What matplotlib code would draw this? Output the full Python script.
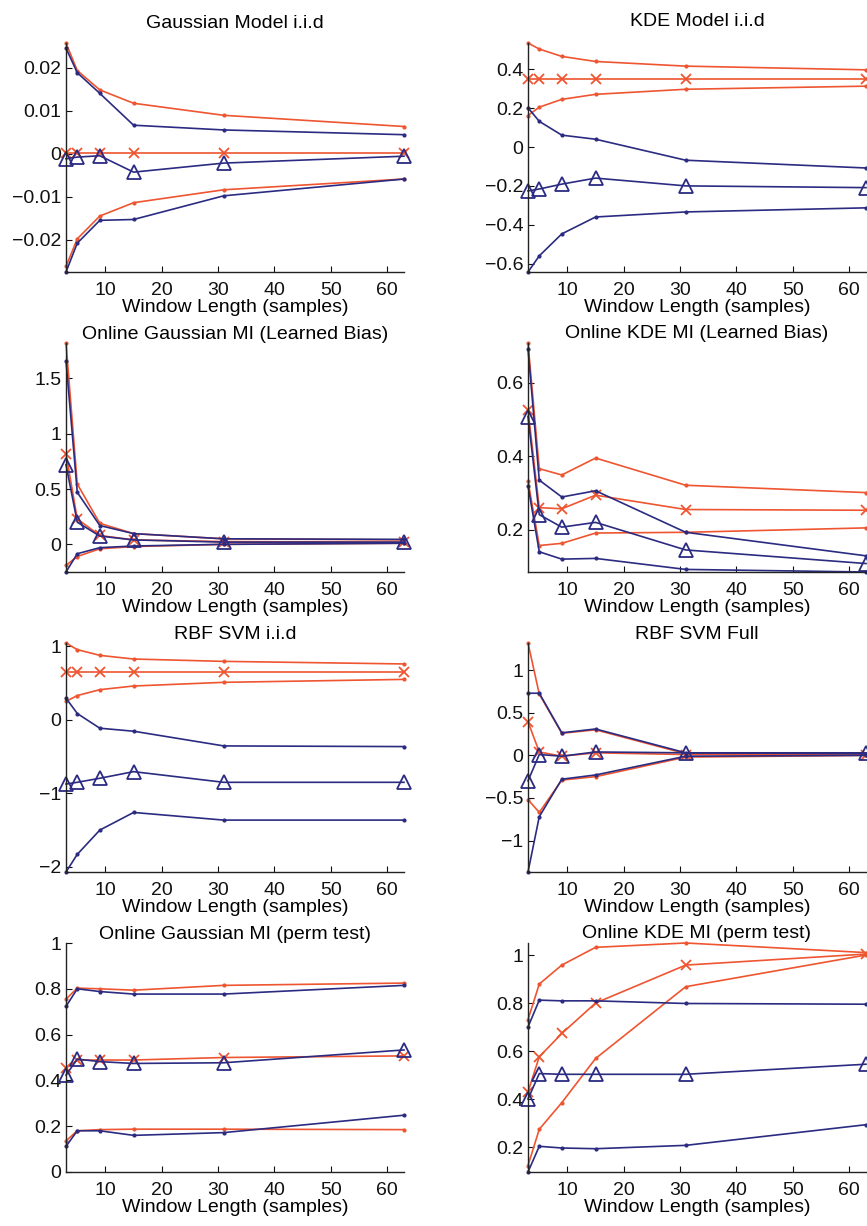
import numpy as np
import matplotlib
matplotlib.use("Agg")
import matplotlib.pyplot as plt
from matplotlib.ticker import FuncFormatter

plt.rcParams["font.family"] = ["Liberation Sans", "DejaVu Sans"]
plt.rcParams["font.size"] = 14

RED = "#ee5530"
BLUE = "#2b2b82"

win = [3, 5, 9, 15, 31, 63]
xticks = [10, 20, 30, 40, 50, 60]
xlab = "Window Length (samples)"

titles = ["Gaussian Model i.i.d", "KDE Model i.i.d",
          "Online Gaussian MI (Learned Bias)", "Online KDE MI (Learned Bias)",
          "RBF SVM i.i.d", "RBF SVM Full",
          "Online Gaussian MI (perm test)", "Online KDE MI (perm test)"]

# each panel: red upper / red mean (x) / red lower, blue upper / blue mean (^) / blue lower
gauss_iid_red_hi = [0.0257, 0.0193, 0.0148, 0.0117, 0.0089, 0.0063]
gauss_iid_red_mid = [0.0002, 0.0002, 0.0002, 0.0002, 0.0002, 0.0002]
gauss_iid_red_lo = [-0.0262, -0.0198, -0.0145, -0.0114, -0.0084, -0.0059]
gauss_iid_blue_hi = [0.0245, 0.0188, 0.0140, 0.0066, 0.0055, 0.0044]
gauss_iid_blue_mid = [-0.0012, -0.0008, -0.0005, -0.0043, -0.0022, -0.0006]
gauss_iid_blue_lo = [-0.0275, -0.0208, -0.0155, -0.0153, -0.0098, -0.0059]

kde_iid_red_hi = [0.535, 0.504, 0.466, 0.440, 0.416, 0.397]
kde_iid_red_mid = [0.350, 0.350, 0.350, 0.350, 0.350, 0.350]
kde_iid_red_lo = [0.162, 0.205, 0.245, 0.271, 0.297, 0.313]
kde_iid_blue_hi = [0.202, 0.132, 0.061, 0.040, -0.068, -0.108]
kde_iid_blue_mid = [-0.226, -0.216, -0.191, -0.160, -0.200, -0.209]
kde_iid_blue_lo = [-0.643, -0.560, -0.447, -0.360, -0.334, -0.313]

ogauss_lb_red_hi = [1.82, 0.545, 0.19, 0.097, 0.05, 0.04]
ogauss_lb_red_mid = [0.82, 0.23, 0.08, 0.04, 0.025, 0.02]
ogauss_lb_red_lo = [-0.19, -0.11, -0.04, -0.02, 0.0, 0.01]
ogauss_lb_blue_hi = [1.66, 0.47, 0.17, 0.097, 0.05, 0.045]
ogauss_lb_blue_mid = [0.72, 0.20, 0.075, 0.04, 0.02, 0.02]
ogauss_lb_blue_lo = [-0.25, -0.085, -0.03, -0.015, 0.0, 0.01]

okde_lb_red_hi = [0.708, 0.366, 0.349, 0.395, 0.321, 0.301]
okde_lb_red_mid = [0.526, 0.260, 0.257, 0.294, 0.255, 0.253]
okde_lb_red_lo = [0.333, 0.157, 0.163, 0.191, 0.193, 0.205]
okde_lb_blue_hi = [0.692, 0.335, 0.289, 0.306, 0.193, 0.129]
okde_lb_blue_mid = [0.508, 0.241, 0.207, 0.220, 0.145, 0.108]
okde_lb_blue_lo = [0.320, 0.140, 0.120, 0.122, 0.092, 0.085]

svm_iid_red_hi = [1.045, 0.955, 0.877, 0.827, 0.795, 0.76]
svm_iid_red_mid = [0.65, 0.65, 0.65, 0.65, 0.65, 0.65]
svm_iid_red_lo = [0.25, 0.33, 0.41, 0.46, 0.51, 0.55]
svm_iid_blue_hi = [0.295, 0.086, -0.114, -0.155, -0.355, -0.364]
svm_iid_blue_mid = [-0.873, -0.85, -0.795, -0.705, -0.85, -0.85]
svm_iid_blue_lo = [-2.07, -1.83, -1.50, -1.26, -1.364, -1.364]

svm_full_red_hi = [1.32, 0.72, 0.26, 0.30, 0.02, 0.01]
svm_full_red_mid = [0.395, 0.04, -0.01, 0.03, 0.01, 0.01]
svm_full_red_lo = [-0.52, -0.67, -0.29, -0.25, -0.02, 0.0]
svm_full_blue_hi = [0.73, 0.73, 0.265, 0.31, 0.03, 0.02]
svm_full_blue_mid = [-0.30, 0.01, -0.01, 0.04, 0.03, 0.03]
svm_full_blue_lo = [-1.37, -0.72, -0.28, -0.23, -0.01, 0.0]

ogauss_pt_red_hi = [0.755, 0.803, 0.800, 0.794, 0.815, 0.825]
ogauss_pt_red_mid = [0.453, 0.489, 0.489, 0.489, 0.500, 0.507]
ogauss_pt_red_lo = [0.136, 0.180, 0.185, 0.187, 0.187, 0.185]
ogauss_pt_blue_hi = [0.723, 0.800, 0.788, 0.777, 0.777, 0.815]
ogauss_pt_blue_mid = [0.423, 0.493, 0.482, 0.474, 0.477, 0.533]
ogauss_pt_blue_lo = [0.112, 0.180, 0.180, 0.160, 0.172, 0.248]

okde_pt_red_hi = [0.731, 0.879, 0.958, 1.032, 1.050, 1.010]
okde_pt_red_mid = [0.430, 0.576, 0.673, 0.800, 0.958, 1.004]
okde_pt_red_lo = [0.123, 0.274, 0.385, 0.569, 0.868, 1.000]
okde_pt_blue_hi = [0.700, 0.812, 0.809, 0.809, 0.798, 0.795]
okde_pt_blue_mid = [0.400, 0.506, 0.503, 0.503, 0.503, 0.545]
okde_pt_blue_lo = [0.096, 0.203, 0.196, 0.193, 0.207, 0.293]

panels = [
    (gauss_iid_red_hi, gauss_iid_red_mid, gauss_iid_red_lo,
     gauss_iid_blue_hi, gauss_iid_blue_mid, gauss_iid_blue_lo),
    (kde_iid_red_hi, kde_iid_red_mid, kde_iid_red_lo,
     kde_iid_blue_hi, kde_iid_blue_mid, kde_iid_blue_lo),
    (ogauss_lb_red_hi, ogauss_lb_red_mid, ogauss_lb_red_lo,
     ogauss_lb_blue_hi, ogauss_lb_blue_mid, ogauss_lb_blue_lo),
    (okde_lb_red_hi, okde_lb_red_mid, okde_lb_red_lo,
     okde_lb_blue_hi, okde_lb_blue_mid, okde_lb_blue_lo),
    (svm_iid_red_hi, svm_iid_red_mid, svm_iid_red_lo,
     svm_iid_blue_hi, svm_iid_blue_mid, svm_iid_blue_lo),
    (svm_full_red_hi, svm_full_red_mid, svm_full_red_lo,
     svm_full_blue_hi, svm_full_blue_mid, svm_full_blue_lo),
    (ogauss_pt_red_hi, ogauss_pt_red_mid, ogauss_pt_red_lo,
     ogauss_pt_blue_hi, ogauss_pt_blue_mid, ogauss_pt_blue_lo),
    (okde_pt_red_hi, okde_pt_red_mid, okde_pt_red_lo,
     okde_pt_blue_hi, okde_pt_blue_mid, okde_pt_blue_lo),
]

yticks = [
    [-0.02, -0.01, 0, 0.01, 0.02],
    [-0.6, -0.4, -0.2, 0, 0.2, 0.4],
    [0, 0.5, 1, 1.5],
    [0.2, 0.4, 0.6],
    [-2, -1, 0, 1],
    [-1, -0.5, 0, 0.5, 1],
    [0, 0.2, 0.4, 0.6, 0.8, 1],
    [0.2, 0.4, 0.6, 0.8, 1],
]
fixed_ylim = {6: (0, 1)}
title_pad = [11, 12, 0.5, 3.5, 1.5, 2, 1, 3.5]


def fmt(v, _):
    s = "%g" % round(v, 6)
    return s.replace("-", "\u2212")


W, H = 867, 1226
fig = plt.figure(figsize=(W / 100, H / 100), dpi=100)
col_x = [66, 528]
ax_w, ax_h = 338, 229
row_bottom = [272, 572, 872, 1172]

for i, series in enumerate(panels):
    r, c = divmod(i, 2)
    ax = fig.add_axes([col_x[c] / W, (H - row_bottom[r]) / H, ax_w / W, ax_h / H])
    r_hi, r_mid, r_lo, b_hi, b_mid, b_lo = series
    for ys in (r_hi, r_lo):
        ax.plot(win, ys, "-", color=RED, lw=1.2, marker=".", ms=4)
    ax.plot(win, r_mid, "-", color=RED, lw=1.2, marker="x", ms=7, mew=1.3)
    for ys in (b_hi, b_lo):
        ax.plot(win, ys, "-", color=BLUE, lw=1.2, marker=".", ms=4)
    ax.plot(win, b_mid, "-", color=BLUE, lw=1.2, marker="^", ms=10,
            mfc="none", mew=1.3)

    allv = np.concatenate([np.asarray(s, float) for s in series])
    if i in fixed_ylim:
        ax.set_ylim(*fixed_ylim[i])
    else:
        ax.set_ylim(allv.min(), allv.max())
    ax.set_xlim(3, 63)
    ax.set_xticks(xticks)
    ax.set_yticks(yticks[i])
    ax.yaxis.set_major_formatter(FuncFormatter(fmt))
    for s in ("top", "right"):
        ax.spines[s].set_visible(False)
    for s in ("left", "bottom"):
        ax.spines[s].set_color("#222222")
        ax.spines[s].set_linewidth(1.0)
    ax.tick_params(direction="in", length=4, width=0.8, labelsize=14,
                   colors="#111111")
    ax.tick_params(axis="x", pad=7.5)
    ax.set_xlabel(xlab, fontsize=14, labelpad=0)
    ax.set_title(titles[i], fontsize=14, pad=title_pad[i])
    for ln in ax.lines:
        ln.set_clip_on(False)

fig.savefig("out.png", dpi=100)
